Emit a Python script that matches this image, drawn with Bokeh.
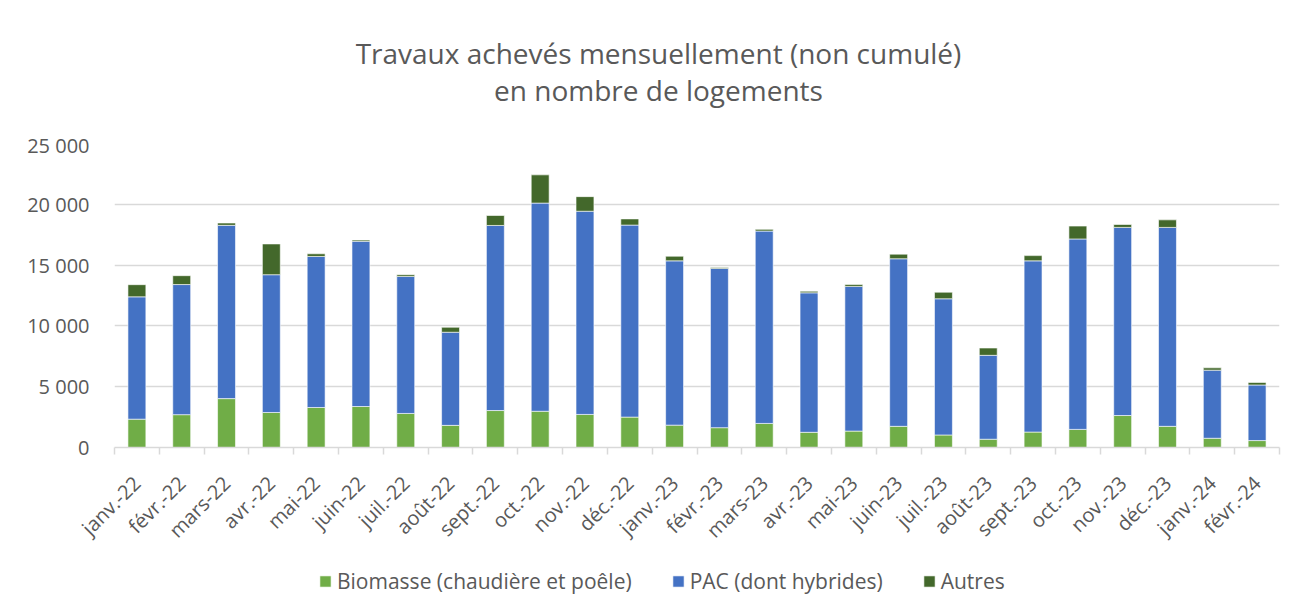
import math
from bokeh.plotting import figure
from bokeh.layouts import column
from bokeh.models import (ColumnDataSource, FixedTicker, Range1d, Label,
                          Legend, LegendItem)
from bokeh.embed import file_html
from bokeh.resources import INLINE

# ---------------- data ----------------
months = ["janv.-22", "févr.-22", "mars-22", "avr.-22", "mai-22", "juin-22",
          "juil.-22", "août-22", "sept.-22", "oct.-22", "nov.-22", "déc.-22",
          "janv.-23", "févr.-23", "mars-23", "avr.-23", "mai-23", "juin-23",
          "juil.-23", "août-23", "sept.-23", "oct.-23", "nov.-23", "déc.-23",
          "janv.-24", "févr.-24"]

biomasse = [2330, 2700, 4020, 2880, 3290, 3370, 2800, 1820, 3040, 2980, 2720, 2500,
            1840, 1630, 1980, 1250, 1350, 1740, 1030, 680, 1270, 1490, 2630, 1740,
            760, 570]
pac = [10060, 10700, 14250, 11330, 12420, 13590, 11270, 7660, 15220, 17120, 16710, 15790,
       13510, 13100, 15820, 11470, 11900, 13780, 11200, 6900, 14080, 15660, 15470, 16360,
       5600, 4570]
autres = [1000, 730, 190, 2530, 220, 100, 140, 410, 820, 2320, 1200, 510,
          380, 80, 140, 130, 160, 380, 540, 600, 430, 1060, 240, 620,
          190, 210]

series_keys = ["biomasse", "pac", "autres"]
series_names = ["Biomasse (chaudière et poêle)", "PAC (dont hybrides)", "Autres"]
series_colors = ["#70AD47", "#4472C4", "#43682B"]

y_ticks = [0, 5000, 10000, 15000, 20000, 25000]
y_tick_labels = ["0", "5 000", "10 000", "15 000", "20 000", "25 000"]

title_lines = ["Travaux achevés mensuellement (non cumulé)", "en nombre de logements"]

# ---------------- style ----------------
FONT = "Open Sans"
GREY_TXT = "#595959"
GRID = "#d9d9d9"
W = 1296
H_TITLE, H_PLOT, H_LEG = 131, 424, 57
FRAME_LEFT = 114          # frames of the stacked figures are aligned here

n = len(months)
xs = [i + 0.5 for i in range(n)]
source = ColumnDataSource(dict(x=xs, biomasse=biomasse, pac=pac, autres=autres))


def blank(height):
    f = figure(width=W, height=height, output_backend="svg", toolbar_location=None,
               x_range=Range1d(0, n), y_range=Range1d(0, 1),
               x_axis_type=None, y_axis_type=None,
               min_border_left=0, min_border_right=0,
               min_border_top=0, min_border_bottom=0)
    f.outline_line_color = None
    f.background_fill_color = "white"
    f.border_fill_color = "white"
    return f


# ---------------- title block ----------------
pt = blank(H_TITLE)
for txt, yy in zip(title_lines, [H_TITLE - 52, H_TITLE - 89]):
    pt.add_layout(Label(x=658 - FRAME_LEFT, y=yy, x_units="screen", y_units="screen",
                        text=txt, text_align="center", text_baseline="middle",
                        text_font=FONT, text_font_size="28px", text_color=GREY_TXT))

# ---------------- main chart ----------------
p = figure(width=W, height=H_PLOT, output_backend="svg", toolbar_location=None,
           x_range=Range1d(0, n), y_range=Range1d(0, 25000),
           min_border_left=FRAME_LEFT, min_border_right=17,
           min_border_top=12, min_border_bottom=105)
p.outline_line_color = None
p.background_fill_color = "white"
p.border_fill_color = "white"

rs = p.vbar_stack(series_keys, x="x", width=0.4,
                  color=series_colors, source=source,
                  line_color="white", line_width=0.6)

# x axis: labels at centres, tick marks at category boundaries
p.xaxis.ticker = FixedTicker(ticks=xs, minor_ticks=list(range(n + 1)))
p.xaxis.major_label_overrides = {x: m for x, m in zip(xs, months)}
p.xaxis.major_label_orientation = math.pi / 4
p.xaxis.major_tick_out = 0
p.xaxis.major_tick_in = 0
p.xaxis.minor_tick_out = 7
p.xaxis.minor_tick_in = 0
p.xaxis.minor_tick_line_color = GRID
p.xaxis.minor_tick_line_width = 1.5
p.xaxis.axis_line_color = GRID
p.xaxis.axis_line_width = 1.5
p.xaxis.major_label_standoff = 25
p.xaxis.major_label_text_font = FONT
p.xaxis.major_label_text_font_size = "20px"
p.xaxis.major_label_text_color = GREY_TXT
p.xgrid.visible = False

# y axis
p.yaxis.ticker = FixedTicker(ticks=y_ticks)
p.yaxis.major_label_overrides = dict(zip(y_ticks, y_tick_labels))
p.yaxis.axis_line_color = None
p.yaxis.major_tick_line_color = None
p.yaxis.minor_tick_line_color = None
p.yaxis.major_label_standoff = 19
p.yaxis.major_label_text_font = FONT
p.yaxis.major_label_text_font_size = "20px"
p.yaxis.major_label_text_color = GREY_TXT
p.ygrid.grid_line_color = GRID
p.ygrid.grid_line_width = 1.5

# ---------------- legend block ----------------
# same stacked series, hidden in this strip: only their legend entries are shown
pl = blank(H_LEG)
leg_rs = pl.vbar_stack(series_keys, x="x", width=0.4,
                       color=series_colors, source=source,
                       line_color="white", line_width=0.6)
for r in leg_rs:
    r.visible = False
legend = Legend(items=[LegendItem(label=name, renderers=[r])
                       for name, r in zip(series_names, leg_rs)],
                orientation="horizontal", location=(318 - FRAME_LEFT, 17),
                padding=0, margin=0, spacing=39, label_standoff=5,
                glyph_width=14, glyph_height=14,
                inactive_fill_alpha=0,
                label_text_font=FONT, label_text_font_size="21px",
                label_text_color=GREY_TXT,
                border_line_color=None, background_fill_alpha=0)
pl.add_layout(legend, "center")

layout = column(pt, p, pl, spacing=0)
open("out.html", "w").write(file_html(layout, INLINE))
